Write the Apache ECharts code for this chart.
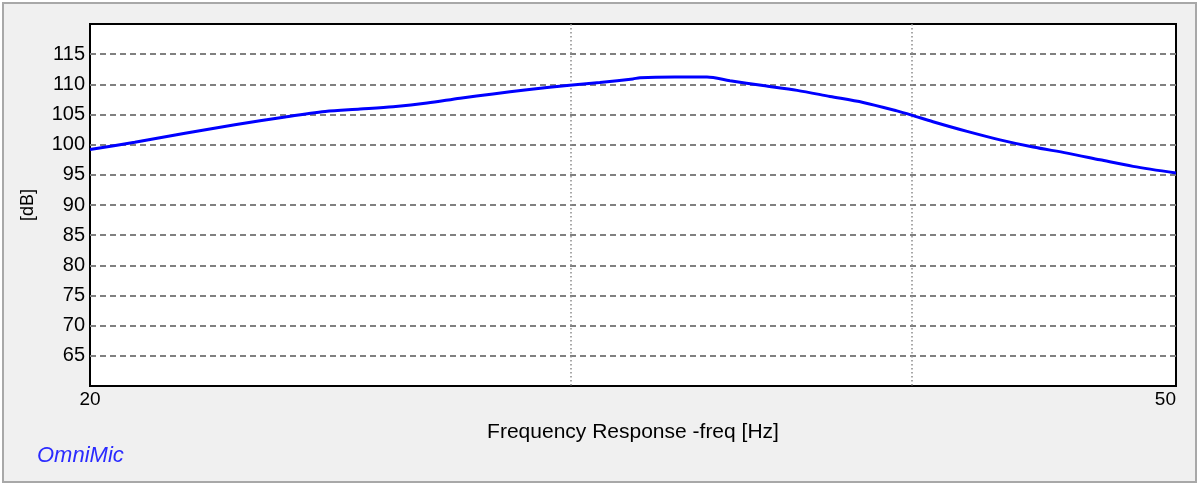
<!DOCTYPE html>
<html>
<head>
<meta charset="utf-8">
<script src="https://cdn.jsdelivr.net/npm/echarts@6/dist/echarts.min.js"></script>
<style>
html,body{margin:0;padding:0;background:#fff;}
#c{width:1200px;height:485px;}
</style>
</head>
<body>
<div id="c"></div>
<script>
const freqs = [20, 20.77, 21.67, 22.60, 23.58, 24.39, 25.12, 25.83, 26.58, 27.33, 28.10, 28.92, 29.91, 30.75, 31.62, 31.81, 32.76, 33.66, 34.32, 35.29, 36.32, 37.34, 38.40, 39.51, 40.0, 40.73, 41.92, 43.10, 44.32, 45.61, 46.89, 48.22, 50];
const levels = [99.2, 100.4, 101.9, 103.3, 104.6, 105.5, 105.9, 106.3, 106.9, 107.7, 108.4, 109.1, 109.8, 110.3, 110.9, 111.1, 111.2, 111.2, 110.6, 109.8, 109.0, 108.0, 107.0, 105.6, 104.9, 103.8, 102.2, 100.8, 99.6, 98.6, 97.5, 96.4, 95.3];
const xLabelValues = [20, 50];
const xGridValues = [30, 40];
const yMin = 60, yMax = 120, yStep = 5;

const font = "'Liberation Sans', Arial, sans-serif";
const chart = echarts.init(document.getElementById('c'));
chart.setOption({
  backgroundColor: '#ffffff',
  animation: false,
  graphic: [
    { type: 'rect', z: -10, shape: { x: 3, y: 3, width: 1193, height: 479 },
      style: { fill: '#f0f0f0', stroke: '#a8a8a8', lineWidth: 2 } },
    { type: 'text', left: 37, top: 445,
      style: { text: 'OmniMic', fill: '#2a2aff', font: "italic 22px 'Liberation Sans', Arial, sans-serif" } }
  ],
  grid: { left: 90, right: 24, top: 24, bottom: 99, show: true, backgroundColor: '#ffffff', borderColor: '#000000', borderWidth: 2 },
  xAxis: {
    type: 'log', min: 20, max: 50,
    name: 'Frequency Response -freq [Hz]', nameLocation: 'middle', nameGap: 36,
    nameTextStyle: { color: '#000', fontSize: 21, fontFamily: font },
    axisLine: { show: false },
    axisTick: { show: false, customValues: xGridValues },
    axisLabel: { customValues: xLabelValues, color: '#000', fontSize: 19, fontFamily: font, margin: 4, alignMaxLabel: 'right' },
    splitLine: { show: true, lineStyle: { color: '#8c8c8c', type: [1.5, 2.5], width: 1.5 } },
    minorSplitLine: { show: false }
  },
  yAxis: {
    type: 'value', min: yMin, max: yMax, interval: yStep,
    name: '[dB]', nameLocation: 'middle', nameGap: 53, nameRotate: 90,
    nameTextStyle: { color: '#000', fontSize: 18, fontFamily: font },
    axisLine: { show: false }, axisTick: { show: false },
    axisLabel: { showMinLabel: false, showMaxLabel: false, color: '#000', fontSize: 20, fontFamily: font, margin: 5 },
    splitLine: { show: true, showMinLine: false, showMaxLine: false, lineStyle: { color: '#808080', type: [6, 4], width: 2 } }
  },
  series: [{
    type: 'line', data: freqs.map((f, i) => [f, levels[i]]),
    showSymbol: false, smooth: 0.3,
    lineStyle: { color: '#0000ff', width: 3 }
  }]
});
</script>
</body>
</html>
